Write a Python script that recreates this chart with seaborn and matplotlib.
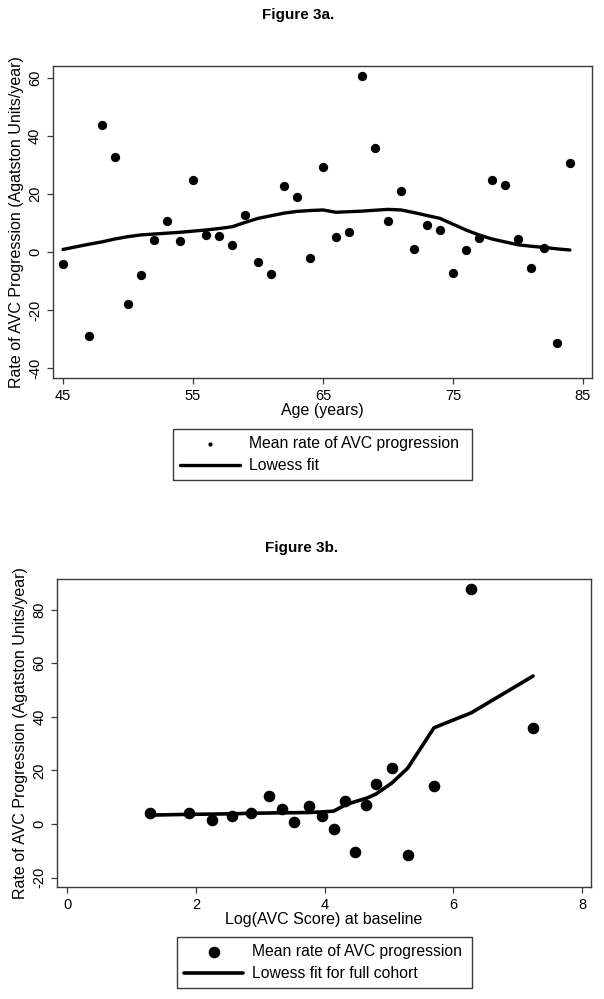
import numpy as np
import pandas as pd
import matplotlib
matplotlib.use("Agg")
import matplotlib.pyplot as plt
import seaborn as sns

# Figure 3a: age vs mean rate of AVC progression (no point at age 46)
age = [45, 47, 48, 49, 50, 51, 52, 53, 54, 55, 56, 57, 58, 59, 60, 61, 62, 63, 64,
       65, 66, 67, 68, 69, 70, 71, 72, 73, 74, 75, 76, 77, 78, 79, 80, 81, 82, 83, 84]
rate_age = [-4.1, -28.9, 43.9, 32.8, -18.0, -7.8, 4.1, 10.8, 3.7,
            24.8, 5.7, 5.6, 2.4, 12.9, -3.4, -7.4, 22.8, 19.1, -2.1,
            29.2, 5.3, 7.0, 60.7, 35.9, 10.7, 20.9, 0.9, 9.2, 7.5,
            -7.1, 0.7, 4.9, 24.9, 23.0, 4.4, -5.6, 1.4, -31.3, 30.8]
lowess_age = [0.9, 2.7, 3.5, 4.5, 5.3, 5.9, 6.2, 6.5, 6.8,
              7.2, 7.6, 8.1, 8.7, 10.2, 11.6, 12.5, 13.4, 14.0, 14.3,
              14.5, 13.7, 13.9, 14.1, 14.4, 14.7, 14.5, 13.6, 12.6, 11.6,
              9.6, 7.6, 5.9, 4.5, 3.5, 2.5, 2.0, 1.6, 1.1, 0.7]

# Figure 3b: log baseline score vs mean rate of AVC progression
log_avc = [1.28, 1.89, 2.25, 2.56, 2.86, 3.14, 3.34, 3.52, 3.76, 3.96,
           4.14, 4.32, 4.47, 4.65, 4.80, 5.04, 5.29, 5.70, 6.28, 7.24]
rate_avc = [4.0, 4.0, 1.6, 2.9, 4.2, 10.4, 5.7, 0.9, 6.7, 3.0,
            -2.0, 8.6, -10.6, 7.1, 15.0, 20.8, -11.5, 14.3, 87.7, 35.8]
lowess_avc = [3.3, 3.6, 3.7, 3.8, 4.0, 4.1, 4.2, 4.2, 4.3, 4.5,
              4.8, 7.1, 8.3, 9.6, 11.2, 15.2, 20.8, 35.9, 41.5, 55.2]

age_ticks = [45, 55, 65, 75, 85]
age_yticks = [-40, -20, 0, 20, 40, 60]
avc_ticks = [0, 2, 4, 6, 8]
avc_yticks = [-20, 0, 20, 40, 60, 80]

ylab = "Rate of AVC Progression (Agatston Units/year)"

sns.set_style("white")
plt.rcParams['font.family'] = ['Liberation Sans', 'DejaVu Sans']
plt.rcParams['axes.unicode_minus'] = False
plt.rcParams['text.color'] = 'black'
plt.rcParams['axes.labelcolor'] = 'black'
plt.rcParams['xtick.color'] = 'black'
plt.rcParams['ytick.color'] = 'black'

df_a = pd.DataFrame({"age": age, "rate": rate_age, "fit": lowess_age})
df_b = pd.DataFrame({"logavc": log_avc, "rate": rate_avc, "fit": lowess_avc})

W, H = 604, 999
fig = plt.figure(figsize=(W / 100, H / 100), dpi=100)


def px_axes(left, top, right, bottom):
    return fig.add_axes([left / W, 1 - bottom / H, (right - left) / W, (bottom - top) / H])


def style_axes(ax, xticks, yticks):
    ax.set_xticks(xticks)
    ax.set_yticks(yticks)
    for s in ax.spines.values():
        s.set_color("#3a3a3a")
        s.set_linewidth(1.0)
    ax.tick_params(axis="both", direction="out", length=4, width=0.9,
                   color="#3a3a3a", labelcolor="black", labelsize=10.5,
                   pad=4, bottom=True, left=True)
    for lab in ax.get_yticklabels():
        lab.set_rotation(90)
        lab.set_va("center")


def add_legend(handles, labels, left, top, right, bottom, mscale):
    fig.legend(handles, labels, loc="upper left", mode="expand",
               bbox_to_anchor=(left / W, 1 - bottom / H, (right - left) / W, (bottom - top) / H),
               borderaxespad=0, fancybox=False, edgecolor="#3a3a3a", framealpha=1,
               fontsize=11.3, handlelength=3.8, handletextpad=0.57,
               labelspacing=0.45, borderpad=0.45, markerscale=mscale)


# ---- Figure 3a ----
ax1 = px_axes(53, 66, 592, 378)
sns.scatterplot(data=df_a, x="age", y="rate", ax=ax1, color="black", s=45,
                edgecolor="black", linewidth=0, label="Mean rate of AVC progression")
sns.lineplot(data=df_a, x="age", y="fit", ax=ax1, color="black", lw=2.4,
             estimator=None, sort=False, label="Lowess fit")
ax1.set_xlim(44.23, 85.7)
ax1.set_ylim(-43.4, 64.1)
style_axes(ax1, age_ticks, age_yticks)
ax1.set_xlabel("Age (years)", fontsize=11.5, labelpad=0)
ax1.set_ylabel(ylab, fontsize=11.5, labelpad=3)
h1, l1 = ax1.get_legend_handles_labels()
ax1.get_legend().remove()
fig.text(298 / W, 1 - 15 / H, "Figure 3a.", ha="center", va="center",
         fontsize=11, fontweight="bold")
add_legend(h1, l1, 173, 429, 472.3, 479, 0.45)

# ---- Figure 3b ----
ax2 = px_axes(57.3, 579.3, 591, 886.7)
sns.scatterplot(data=df_b, x="logavc", y="rate", ax=ax2, color="black", s=70,
                edgecolor="black", linewidth=0, label="Mean rate of AVC progression")
sns.lineplot(data=df_b, x="logavc", y="fit", ax=ax2, color="black", lw=2.6,
             estimator=None, sort=False, label="Lowess fit for full cohort")
ax2.set_xlim(-0.155, 8.14)
ax2.set_ylim(-23.4, 91.3)
style_axes(ax2, avc_ticks, avc_yticks)
ax2.set_xlabel("Log(AVC Score) at baseline", fontsize=11.5, labelpad=0)
ax2.set_ylabel(ylab, fontsize=11.5, labelpad=3)
h2, l2 = ax2.get_legend_handles_labels()
ax2.get_legend().remove()
fig.text(302 / W, 1 - 548 / H, "Figure 3b.", ha="center", va="center",
         fontsize=11, fontweight="bold")
add_legend(h2, l2, 176.7, 937.3, 472.3, 988.3, 1.0)

fig.savefig("out.png", dpi=100)
